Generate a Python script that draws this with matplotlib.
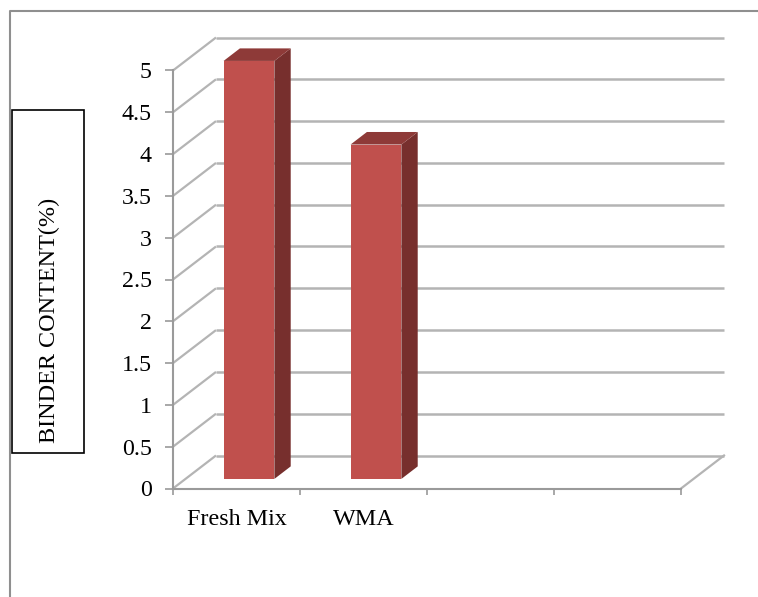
import matplotlib
matplotlib.use('Agg')
import matplotlib.pyplot as plt
from matplotlib.lines import Line2D
from matplotlib.patches import Polygon, Rectangle

W, H = 758, 597

categories = ['Fresh Mix', 'WMA', '', '']
binder = [5, 4]
yticks = [0, 0.5, 1, 1.5, 2, 2.5, 3, 3.5, 4, 4.5, 5]
ytick_labels = ['0', '0.5', '1', '1.5', '2', '2.5', '3', '3.5', '4', '4.5', '5']

GRID = '#b4b4b4'
AXIS = '#9a9a9a'
FRONT = '#c0504d'
TOP = '#8e3a38'
SIDE = '#772f2d'

# oblique depth of the fake 3d box, in data units
DEPTH_X = 43 / 127
DEPTH_Y = 33 / 83.6
BAR_WIDTH = 0.4


def px_x(x):
    return x / W


def px_y(y):
    return 1 - y / H


def oblique(x, y, d):
    return x + d * DEPTH_X, y + d * DEPTH_Y


def draw_bar(ax, centre, value):
    x0, x1 = centre - BAR_WIDTH / 2, centre + BAR_WIDTH / 2
    d0, d1 = 0.29, 0.67
    front = [oblique(x0, 0, d0), oblique(x1, 0, d0), oblique(x1, value, d0), oblique(x0, value, d0)]
    side = [oblique(x1, 0, d0), oblique(x1, 0, d1), oblique(x1, value, d1), oblique(x1, value, d0)]
    top = [oblique(x0, value, d0), oblique(x1, value, d0), oblique(x1, value, d1), oblique(x0, value, d1)]
    ax.add_patch(Polygon(side, closed=True, fc=SIDE, ec='none', zorder=4, clip_on=False))
    ax.add_patch(Polygon(top, closed=True, fc=TOP, ec='none', zorder=4, clip_on=False))
    ax.add_patch(Polygon(front, closed=True, fc=FRONT, ec='none', zorder=5, clip_on=False))


plt.rcParams['font.family'] = ['Liberation Serif', 'DejaVu Serif']

fig = plt.figure(figsize=(W / 100, H / 100), dpi=100, facecolor='white')
ax = fig.add_axes([px_x(173), px_y(488.5), 508 / W, 418 / H])
ax.set_xlim(0, len(categories))
ax.set_ylim(0, 5)
ax.patch.set_visible(False)

for side_name in ['top', 'right']:
    ax.spines[side_name].set_visible(False)
for side_name in ['left', 'bottom']:
    ax.spines[side_name].set_color(AXIS)
    ax.spines[side_name].set_linewidth(1.5)
    ax.spines[side_name].set_zorder(3)

ax.set_yticks(yticks)
ax.set_yticklabels(ytick_labels, fontsize=17.2, color='black', va='center_baseline')
ax.tick_params(axis='y', length=5.8, width=1.2, color=AXIS, pad=9.5)

ax.set_xticks(range(len(categories) + 1))
ax.set_xticklabels([])
ax.tick_params(axis='x', which='major', length=4.5, width=1.2, color=AXIS)
ax.set_xticks([i + 0.5 for i in range(len(categories))], minor=True)
ax.set_xticklabels(categories, minor=True, fontsize=17.4, color='black')
ax.tick_params(axis='x', which='minor', length=0, pad=14.5)

# gridlines run along the back wall, with a diagonal back to the front axis
for v in yticks:
    bx, by = oblique(0, v, 1)
    ex, ey = oblique(len(categories), v, 1)
    ax.plot([0, bx], [v, by], color=GRID, lw=1.6, zorder=2, clip_on=False, solid_capstyle='butt')
    ax.plot([bx, ex], [by, ey], color=GRID, lw=1.8, zorder=2, clip_on=False, solid_capstyle='butt')

# floor edge on the right
ex, ey = oblique(len(categories), 0, 1)
ax.plot([len(categories), ex], [0, ey], color=GRID, lw=1.6, zorder=2, clip_on=False)

for i, value in enumerate(binder):
    draw_bar(ax, i + 0.5, value)

# outer chart frame, open on the right and at the bottom
fig.add_artist(Line2D([px_x(10), px_x(10), 1], [0, px_y(10.5), px_y(10.5)], color='#8f8f8f', lw=1.5))

# axis title sits in its own box
fig.add_artist(Rectangle((px_x(12), px_y(453)), 72 / W, 343 / H, fc='white', ec='black', lw=1.2,
                         transform=fig.transFigure))
fig.text(px_x(49.5), px_y(443), 'BINDER CONTENT(%)', rotation=90, ha='center', va='bottom',
         fontsize=17.4, color='black')

fig.savefig('out.png', dpi=100)
